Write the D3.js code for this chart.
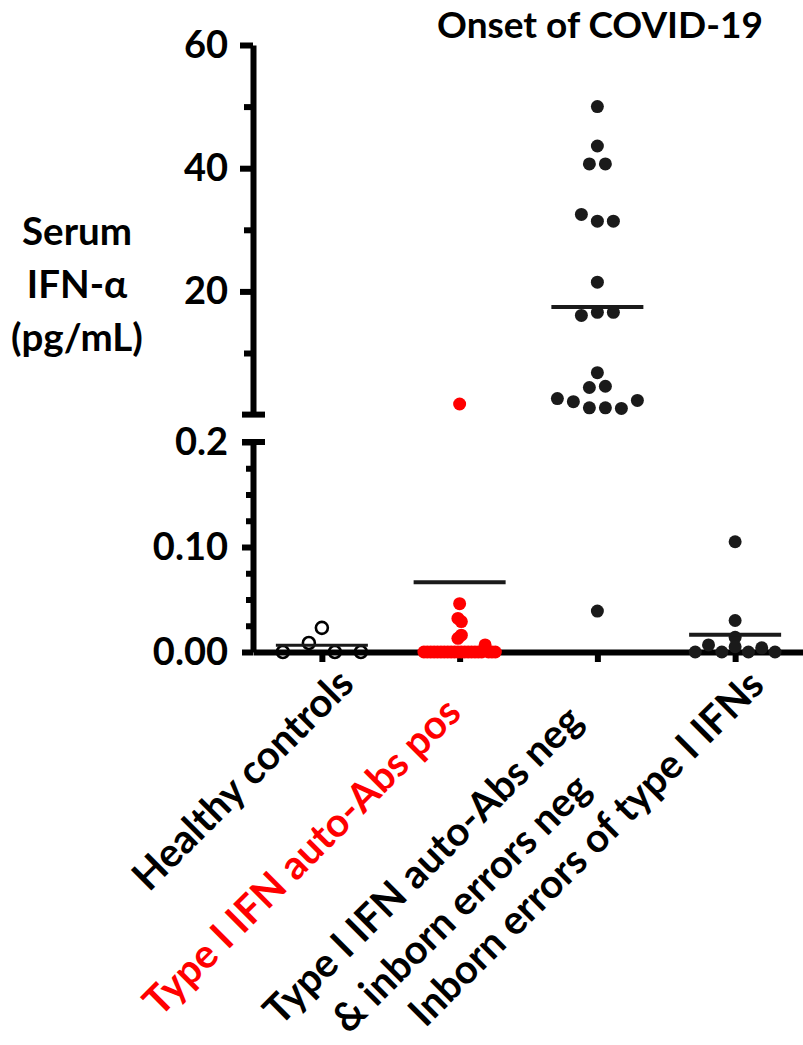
<!DOCTYPE html>
<html>
<head>
<meta charset="utf-8">
<script src="https://cdn.jsdelivr.net/npm/d3@7"></script>
<style>
	body { margin: 0; background: #fff; }
	svg text { font-family: Lato, "Open Sans", sans-serif; font-weight: 700; }
</style>
</head>
<body>
<svg id="chart" width="803" height="1045"></svg>
<script>
// groups along the x axis
const groups = ["healthy", "autoPos", "neg", "inborn"];
const groupLabels = [
	["Healthy controls"],
	["Type I IFN auto-Abs pos"],
	["Type I IFN auto-Abs neg", "& inborn errors neg"],
	["Inborn errors of type I IFNs"]
];
const labelColors = ["#000", "#ff0000", "#000", "#000"];

// serum IFN-a, pg/mL (order inside a row = left to right)
const healthyValues = [0, 0.0086, 0.023, 0, 0];
const autoPosValues = [1.72, 0.046, 0.032, 0.029, 0.013, 0.016,
	0, 0, 0, 0, 0, 0, 0, 0, 0, 0, 0, 0, 0, 0, 0, 0, 0, 0, 0.0067, 0, 0, 0];
const negValues = [50, 43.6, 40.7, 40.7, 32.5, 31.4, 31.4, 21.5, 16.1, 16.6, 16.6,
	6.8, 4.4, 4.6, 2.6, 2.1, 1.1, 1.1, 1.0, 2.3, 0.039];
const inbornValues = [0.105, 0.030, 0.014, 0, 0.0067, 0, 0.005, 0, 0.004, 0];

// broken y axis
const upperTicks = [20, 40, 60];
const upperMinor = [10, 30, 50];
const lowerTicks = [0, 0.1, 0.2];
const lowerMinor = [0.025, 0.05, 0.075, 0.125, 0.15, 0.175];
const lowerTickLabels = ["0.00", "0.10", "0.2"];

const titleText = "Onset of COVID-19";
const yTitleLines = ["Serum", "IFN-\u03b1", "(pg/mL)"];

const seriesValues = [healthyValues, autoPosValues, negValues, inbornValues];

// ---- layout
const axisX = 253, plotRight = 804, plotBottom = 652, lowerTop = 442,
	upperBottom = 414.6, plotTop = 45;
const swarmStep = [26, 3.4, 16, 13.3];
const dotR = 6.5;
const ink = "#1a1a1a";

const svg = d3.select("#chart");

const x = d3.scalePoint().domain(groups).range([axisX, plotRight]).padding(0.5);
const yUpper = d3.scaleLinear().domain([0, 60]).range([upperBottom, plotTop]);
const yLower = d3.scaleLinear().domain([0, 0.2]).range([plotBottom, lowerTop]);
function yPos(v){ return v > 0.2 ? yUpper(v) : yLower(v); }

// rows of points close in y are spread side by side around the group centre
function swarm(values, step){
	let pts = values.map(function(v, i){ return {v: v, i: i, y: yPos(v)}; });
	let sorted = pts.slice().sort(function(a, b){ return b.y - a.y; });
	let rows = [], row = null;
	sorted.forEach(function(p){
		if(!row || row.start - p.y > 10){
			row = {start: p.y, pts: []};
			rows.push(row);
		}
		row.pts.push(p);
	});
	rows.forEach(function(r){
		r.pts.sort(function(a, b){ return a.i - b.i; });
		r.pts.forEach(function(p, k){ p.dx = (k - (r.pts.length - 1) / 2) * step; });
	});
	return pts;
}

// ---- axes
function styleAxis(g, width){
	g.select(".domain").attr("stroke", "#000").attr("stroke-width", width);
	g.selectAll(".tick line").attr("stroke", "#000").attr("stroke-width", 6);
	g.selectAll(".tick text").attr("fill", "#000").style("font-size", "38px");
}

let upperAxis = svg.append("g")
	.attr("transform", "translate(" + axisX + ",0)")
	.call(d3.axisLeft(yUpper).tickValues(upperTicks).tickSize(13).tickSizeOuter(0).tickPadding(12));
styleAxis(upperAxis, 6);
svg.append("g")
	.attr("transform", "translate(" + axisX + ",0)")
	.call(d3.axisLeft(yUpper).tickValues(upperMinor).tickSize(9).tickFormat(""))
	.call(function(g){ g.select(".domain").remove(); styleAxis(g, 6); });

let lowerAxis = svg.append("g")
	.attr("transform", "translate(" + axisX + ",0)")
	.call(d3.axisLeft(yLower).tickValues(lowerTicks).tickSize(11).tickSizeOuter(0).tickPadding(14)
		.tickFormat(function(d, i){ return lowerTickLabels[i]; }));
styleAxis(lowerAxis, 6);
svg.append("g")
	.attr("transform", "translate(" + axisX + ",0)")
	.call(d3.axisLeft(yLower).tickValues(lowerMinor).tickSize(7).tickFormat(""))
	.call(function(g){ g.select(".domain").remove(); styleAxis(g, 6); });

// caps at the axis break
[yUpper(0), yLower(0.2)].forEach(function(yy){
	svg.append("line")
		.attr("x1", axisX - 11).attr("x2", axisX + 12)
		.attr("y1", yy).attr("y2", yy)
		.attr("stroke", "#000").attr("stroke-width", 6);
});

let xAxis = svg.append("g")
	.attr("transform", "translate(0," + plotBottom + ")")
	.call(d3.axisBottom(x).tickSize(10).tickSizeOuter(0).tickFormat(""));
styleAxis(xAxis, 6);

// ---- points
seriesValues.forEach(function(vals, gi){
	let cx = x(groups[gi]);
	let pts = swarm(vals, swarmStep[gi]);
	let g = svg.append("g");
	let dots = g.selectAll("circle")
		.data(pts)
		.enter()
		.append("circle")
		.attr("cx", function(d){ return cx + d.dx; })
		.attr("cy", function(d){ return d.y; });
	if(gi === 0){
		dots.attr("r", 6).attr("fill", "none").attr("stroke", "#000").attr("stroke-width", 2.6);
	}else{
		dots.attr("r", dotR).attr("fill", gi === 1 ? "#ff0000" : ink);
	}
	// mean line
	let m = d3.mean(vals);
	g.append("line")
		.attr("x1", cx - 46).attr("x2", cx + 46)
		.attr("y1", yPos(m)).attr("y2", yPos(m))
		.attr("stroke", ink).attr("stroke-width", gi === 0 ? 3 : 4);
});

// ---- group labels, rotated
const labelShift = [0, -42, -59, -3];
const labelDrop = [48, 47, 41, 47];
groupLabels.forEach(function(lines, gi){
	let g = svg.append("g")
		.attr("transform", "translate(" + x(groups[gi]) + "," + plotBottom + ") rotate(-45)");
	let texts = g.selectAll("text")
		.data(lines)
		.enter()
		.append("text")
		.text(function(d){ return d; })
		.attr("y", function(d, i){ return labelDrop[gi] + i * 54; })
		.attr("text-anchor", "middle")
		.attr("fill", labelColors[gi])
		.style("font-size", "40px");
	let maxLen = d3.max(texts.nodes(), function(n){ return n.getComputedTextLength(); });
	texts.attr("x", labelShift[gi] - maxLen / 2);
});

// ---- titles
svg.append("text")
	.attr("x", 600).attr("y", 37.5)
	.attr("text-anchor", "middle")
	.style("font-size", "37px")
	.text(titleText);

svg.append("g").selectAll("text")
	.data(yTitleLines)
	.enter()
	.append("text")
	.attr("x", 77)
	.attr("y", function(d, i){ return 245 + i * 53; })
	.attr("text-anchor", "middle")
	.style("font-size", "38.5px")
	.text(function(d){ return d; });
</script>
</body>
</html>
